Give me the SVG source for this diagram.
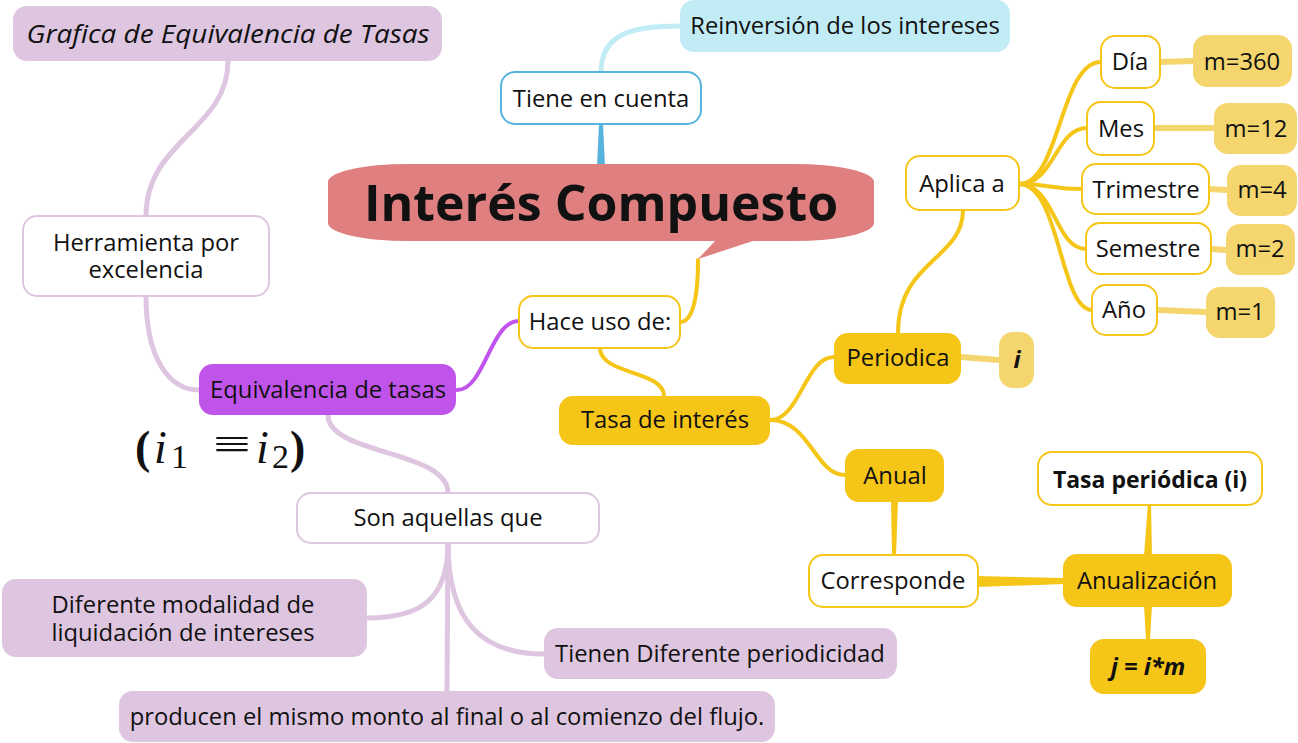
<svg xmlns="http://www.w3.org/2000/svg" width="1298" height="743" viewBox="0 0 1298 743">
<style>
text{font-family:"Open Sans","Noto Sans",sans-serif;font-size:23.8px;fill:#111;text-anchor:middle}
.lp{fill:#dec6e0}
.lpw{fill:#fff;stroke:#dec6e0;stroke-width:2}
.yw{fill:#fff;stroke:#f5c518;stroke-width:2}
.y{fill:#f5c518}
.ly{fill:#f4d56e}
.c{fill:none;stroke-linecap:round}
.cy{stroke:#f5c518;stroke-width:4}
.cly{stroke:#f4d56e;stroke-width:6}
.clp{stroke:#dec6e0;stroke-width:5}
text.m{font-family:"Liberation Serif",serif;text-anchor:start;font-size:46px}
text.s{font-size:34px}
text.b{font-weight:bold}
text.it{font-style:italic}
</style>
<g id="connectors">
<path class="c clp" d="M228,61 C228,130 146,140 146,216"/>
<path class="c clp" d="M146,296 C146,360 170,390 199,390"/>
<path class="c" stroke="#c054ec" stroke-width="4" d="M519,321 C490,321 485,390 457,390"/>
<path class="c cy" d="M698,260 C698,300 692,322 680,322"/>
<path class="c clp" stroke-width="6" d="M328,415 C328,455 448,450 448,493"/>
<path class="c clp" stroke-width="6" d="M448,543 C448,600 420,618 367,618"/>
<path class="c clp" stroke-width="6" d="M448,543 C448,620 480,654 544,654"/>
<path class="c clp" stroke-width="6" d="M448,543 L447,691"/>
<path class="c" stroke="#c1ebf5" stroke-width="5" d="M601,72 C601,30 640,26 680,26"/>
<polygon fill="#55b3dc" points="597,166 605,166 603,124 599,124"/>
<path class="c cy" stroke-width="5" d="M600,348 C600,375 664,370 664,396"/>
<path class="c cy" d="M770,420 C800,420 805,357 834,357"/>
<path class="c cy" d="M770,420 C810,420 815,475 845,475"/>
<path class="c cly" d="M961,357 L999,360"/>
<path class="c cy" stroke-width="5" d="M898,333 C898,260 963,260 963,210"/>
<path class="c cy" d="M1019,184 C1060,184 1060,62 1101,62"/>
<path class="c cy" d="M1019,184 C1055,184 1055,128 1087,128"/>
<path class="c cy" d="M1019,184 C1050,184 1050,189 1082,189"/>
<path class="c cy" d="M1019,184 C1055,184 1055,249 1086,249"/>
<path class="c cy" d="M1019,184 C1060,184 1060,310 1092,310"/>
<path class="c cly" d="M1160,62 L1193,61"/>
<path class="c cly" d="M1154,128 L1214,128"/>
<path class="c cly" d="M1209,189 L1227,190"/>
<path class="c cly" d="M1211,249 L1226,250"/>
<path class="c cly" d="M1157,310 L1206,312"/>
<polygon fill="#f5c518" points="891,500 898,500 896,556 892,556"/>
<polygon fill="#f5c518" points="976,576 976,587 1065,584 1065,578"/>
<polygon fill="#f5c518" points="1144,556 1152,556 1151,503 1148,503"/>
<polygon fill="#f5c518" points="1144,605 1152,605 1150,641 1146,641"/>
</g>
<g id="title">
<rect x="328" y="164" width="546" height="77" rx="80" ry="18" fill="#df7f7f"/>
<polygon fill="#df7f7f" points="718,238 698,259 762,238"/>
<text x="601" y="221" style="font-size:50px;font-weight:bold">Interés Compuesto</text>
</g>
<g id="grafica"><rect class="lp" x="13" y="6" width="429" height="55" rx="14"/><text x="228" y="43" textLength="403" lengthAdjust="spacingAndGlyphs" style="font-style:italic;font-size:25px">Grafica de Equivalencia de Tasas</text></g>
<g id="herramienta"><rect class="lpw" x="23" y="216" width="246" height="80" rx="14"/><text x="146" y="251">Herramienta por</text><text x="146" y="278">excelencia</text></g>
<g id="tiene"><rect x="501" y="72" width="200" height="52" rx="14" fill="#fff" stroke="#55b3dc" stroke-width="2"/><text x="601" y="107">Tiene en cuenta</text></g>
<g id="reinversion"><rect x="680" y="0" width="330" height="52" rx="14" fill="#c1ebf5"/><text x="845" y="34">Reinversión de los intereses</text></g>
<g id="hace"><rect class="yw" x="519" y="296" width="161" height="52" rx="14"/><text x="600" y="330">Hace uso de:</text></g>
<g id="equivalencia"><rect x="199" y="364" width="257" height="51" rx="14" fill="#c054ea"/><text x="328" y="398">Equivalencia de tasas</text></g>
<g id="formula">
<text class="m b" x="135" y="463">(</text>
<text class="m it" x="154" y="463">i</text>
<text class="m s" x="171" y="468">1</text>
<text class="m" style="font-size:42px" transform="translate(213,458) scale(1.6,1)" x="0" y="0">≡</text>
<text class="m it" x="256" y="463">i</text>
<text class="m s" x="272" y="468">2</text>
<text class="m b" x="290" y="463">)</text>
</g>
<g id="son"><rect class="lpw" x="297" y="493" width="302" height="50" rx="14"/><text x="448" y="526">Son aquellas que</text></g>
<g id="diferente"><rect class="lp" x="2" y="579" width="365" height="78" rx="14"/><text x="183" y="613">Diferente modalidad de</text><text x="183" y="641">liquidación de intereses</text></g>
<g id="tienen"><rect class="lp" x="544" y="628" width="353" height="51" rx="14"/><text x="720" y="662">Tienen Diferente periodicidad</text></g>
<g id="producen"><rect class="lp" x="119" y="691" width="656" height="51" rx="14"/><text x="447" y="725">producen el mismo monto al final o al comienzo del flujo.</text></g>
<g id="tasa"><rect class="y" x="559" y="396" width="211" height="49" rx="14"/><text x="665" y="428">Tasa de interés</text></g>
<g id="periodica"><rect class="y" x="834" y="333" width="127" height="51" rx="14"/><text x="898" y="366">Periodica</text></g>
<g id="inode"><rect class="ly" x="999" y="332" width="35" height="56" rx="14"/><text x="1017" y="368" style="font-weight:bold;font-style:italic">i</text></g>
<g id="anual"><rect class="y" x="845" y="449" width="99" height="53" rx="14"/><text x="895" y="484">Anual</text></g>
<g id="tasaper"><rect class="yw" x="1038" y="452" width="224" height="53" rx="14"/><text x="1150" y="488" style="font-weight:bold;font-size:23px">Tasa periódica (i)</text></g>
<g id="corresponde"><rect class="yw" x="809" y="555" width="169" height="52" rx="14"/><text x="893" y="589">Corresponde</text></g>
<g id="anualizacion"><rect class="y" x="1063" y="554" width="169" height="53" rx="14"/><text x="1147" y="589">Anualización</text></g>
<g id="jnode"><rect class="y" x="1090" y="639" width="116" height="55" rx="14"/><text x="1148" y="675" style="font-weight:bold;font-style:italic">j = i*m</text></g>
<g id="aplica"><rect class="yw" x="906" y="156" width="113" height="54" rx="14"/><text x="962" y="192">Aplica a</text></g>
<g id="dia"><rect class="yw" x="1101" y="36" width="59" height="52" rx="14"/><text x="1130" y="70">Día</text></g>
<g id="m360"><rect class="ly" x="1193" y="35" width="99" height="52" rx="14"/><text x="1242" y="70">m=360</text></g>
<g id="mes"><rect class="yw" x="1087" y="102" width="67" height="53" rx="14"/><text x="1121" y="137">Mes</text></g>
<g id="m12"><rect class="ly" x="1214" y="103" width="83" height="51" rx="14"/><text x="1256" y="137">m=12</text></g>
<g id="trimestre"><rect class="yw" x="1082" y="164" width="127" height="50" rx="14"/><text x="1146" y="198">Trimestre</text></g>
<g id="m4"><rect class="ly" x="1227" y="165" width="70" height="51" rx="14"/><text x="1262" y="198">m=4</text></g>
<g id="semestre"><rect class="yw" x="1086" y="223" width="125" height="51" rx="14"/><text x="1148" y="257">Semestre</text></g>
<g id="m2"><rect class="ly" x="1226" y="224" width="69" height="51" rx="14"/><text x="1260" y="257">m=2</text></g>
<g id="ano"><rect class="yw" x="1092" y="285" width="65" height="50" rx="14"/><text x="1124" y="318">Año</text></g>
<g id="m1"><rect class="ly" x="1206" y="287" width="69" height="51" rx="14"/><text x="1240" y="320">m=1</text></g>
</svg>
